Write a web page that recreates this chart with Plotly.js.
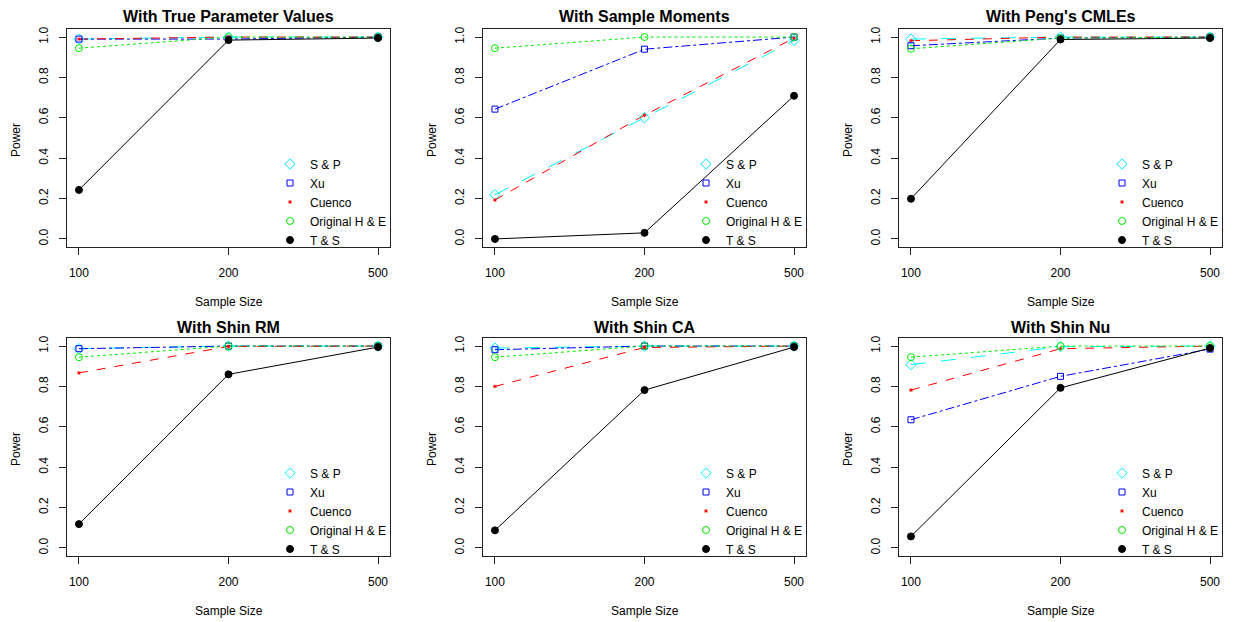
<!DOCTYPE html>
<html><head><meta charset="utf-8">
<script src="https://cdn.plot.ly/plotly-3.0.1.min.js"></script>
<style>html,body{margin:0;padding:0;background:#fff;} #chart{width:1237px;height:622px;}</style>
</head><body><div id="chart"></div>
<script>
// ---- data ----
const sampleSizes = ['100', '200', '500'];
const methods = ['S & P', 'Xu', 'Cuenco', 'Original H & E', 'T & S'];
const panelTitles = ['With True Parameter Values', 'With Sample Moments', "With Peng's CMLEs",
                     'With Shin RM', 'With Shin CA', 'With Shin Nu'];
const yTicks = [0, 0.2, 0.4, 0.6, 0.8, 1.0];

// power per method, order: S & P, Xu, Cuenco, Original H & E, T & S
const powerTrue    = [[0.99, 1.00, 1.00], [0.99, 0.99, 1.00], [0.99, 1.00, 1.00], [0.945, 1.00, 1.00], [0.243, 0.985, 0.995]];
const powerMoments = [[0.219, 0.601, 0.983], [0.643, 0.94, 1.00], [0.193, 0.613, 0.995], [0.945, 1.00, 1.00], [0.00, 0.03, 0.709]];
const powerPeng    = [[0.99, 1.00, 1.00], [0.957, 0.995, 1.00], [0.982, 1.00, 1.00], [0.942, 0.995, 1.00], [0.199, 0.988, 0.995]];
const powerShinRM  = [[0.987, 1.00, 1.00], [0.987, 1.00, 1.00], [0.867, 0.998, 1.00], [0.945, 1.00, 1.00], [0.118, 0.86, 0.995]];
const powerShinCA  = [[0.99, 1.00, 1.00], [0.982, 1.00, 1.00], [0.80, 0.993, 1.00], [0.945, 1.00, 1.00], [0.087, 0.782, 0.995]];
const powerShinNu  = [[0.908, 0.997, 1.00], [0.635, 0.85, 0.985], [0.782, 0.987, 1.00], [0.945, 1.00, 1.00], [0.057, 0.793, 0.99]];
const panels = [powerTrue, powerMoments, powerPeng, powerShinRM, powerShinCA, powerShinNu];

// ---- styles ----
const colors = ['#00ffff', '#0000ff', '#ff0000', '#00ee00', '#000000'];
const dashes = ['longdash', 'dashdot', 'dash', 'dot', 'solid'];
const symbols = ['diamond-open', 'square-open', 'asterisk-open', 'circle-open', 'circle'];
const sizes = [8, 6, 3, 7, 7];

const W = 1237, H = 622;
const colLeft = [67, 483, 899], boxW = 323;
const rowTop = [29, 338], boxH = 218;
const FONT = 'Liberation Sans, Arial, sans-serif';

const data = [];
const layout = {
  width: W, height: H, margin: {l: 0, r: 0, t: 0, b: 0},
  paper_bgcolor: '#fff', plot_bgcolor: '#fff',
  font: {family: FONT, size: 12, color: '#000'},
  annotations: [], showlegend: true
};

panels.forEach((panel, p) => {
  const row = Math.floor(p / 3), col = p % 3;
  const idx = p === 0 ? '' : String(p + 1);
  const L = colLeft[col], T = rowTop[row];
  const xa = 'x' + idx, ya = 'y' + idx;
  const legName = 'legend' + idx;

  layout['xaxis' + idx] = {
    domain: [L / W, (L + boxW) / W], anchor: ya,
    type: 'category', range: [-0.08, 2.08],
    showline: true, mirror: true, linecolor: '#222', linewidth: 1,
    ticks: 'outside', ticklen: 7, tickcolor: '#222', tickwidth: 1,
    ticklabelstandoff: 8, showgrid: false, zeroline: false,
    tickfont: {family: FONT, size: 12, color: '#000'}, fixedrange: true
  };
  layout['yaxis' + idx] = {
    domain: [1 - (T + boxH) / H, 1 - T / H], anchor: xa,
    range: [-0.04, 1.04], tickvals: yTicks, tickformat: '.1f', tickangle: -90,
    showline: true, mirror: true, linecolor: '#222', linewidth: 1,
    ticks: 'outside', ticklen: 7, tickcolor: '#222', tickwidth: 1,
    ticklabelstandoff: 6, showgrid: false, zeroline: false,
    tickfont: {family: FONT, size: 12, color: '#000'}, fixedrange: true
  };
  layout[legName] = {
    x: (L + 203) / W, xanchor: 'left',
    y: 1 - (T + 173) / H, yanchor: 'middle',
    bgcolor: 'rgba(0,0,0,0)', borderwidth: 0,
    font: {family: FONT, size: 12, color: '#000'}, tracegroupgap: 0
  };

  // lines
  panel.forEach((vals, m) => {
    data.push({
      type: 'scatter', mode: 'lines', x: sampleSizes, y: vals, xaxis: xa, yaxis: ya,
      line: {color: colors[m], dash: dashes[m], width: 1}, showlegend: false, hoverinfo: 'skip'
    });
  });
  // markers (also legend entries)
  panel.forEach((vals, m) => {
    data.push({
      type: 'scatter', mode: 'markers', x: sampleSizes, y: vals, xaxis: xa, yaxis: ya,
      name: methods[m], legend: legName, showlegend: true,
      marker: {symbol: symbols[m], size: sizes[m], color: colors[m], line: {color: colors[m], width: 1}}
    });
  });

  // titles
  layout.annotations.push({
    xref: 'paper', yref: 'paper', x: (L + boxW / 2) / W, y: 1 - 17 / H - row * 310 / H,
    xanchor: 'center', yanchor: 'middle', showarrow: false,
    text: panelTitles[p], font: {family: FONT, size: 16, color: '#000', weight: 'bold'}
  });
  layout.annotations.push({
    xref: 'paper', yref: 'paper', x: (L - 51) / W, y: 1 - (T + boxH / 2 + 2) / H,
    xanchor: 'center', yanchor: 'middle', showarrow: false, textangle: -90,
    text: 'Power', font: {family: FONT, size: 12, color: '#000'}
  });
  layout.annotations.push({
    xref: 'paper', yref: 'paper', x: (L + boxW / 2) / W, y: 1 - (T + boxH + 55) / H,
    xanchor: 'center', yanchor: 'middle', showarrow: false,
    text: 'Sample Size', font: {family: FONT, size: 12, color: '#000'}
  });
});

Plotly.newPlot('chart', data, layout, {displayModeBar: false, staticPlot: true});
</script>
</body></html>
